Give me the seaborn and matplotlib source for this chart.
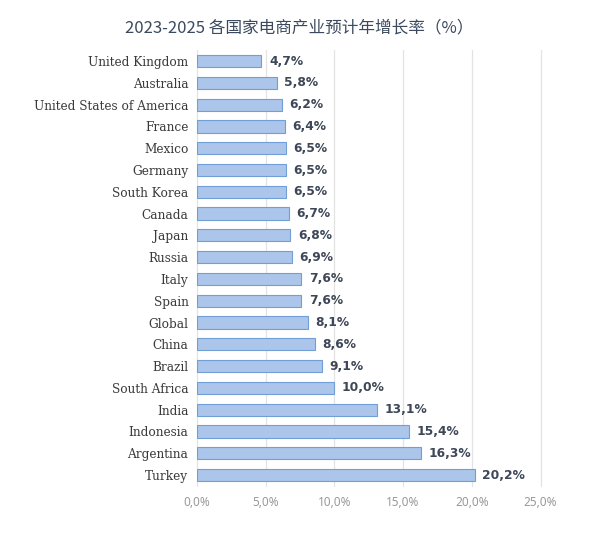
import matplotlib
matplotlib.use('Agg')
import matplotlib.pyplot as plt
import seaborn as sns
import pandas as pd

# Data
countries = ['United Kingdom', 'Australia', 'United States of America', 'France', 'Mexico',
             'Germany', 'South Korea', 'Canada', 'Japan', 'Russia', 'Italy', 'Spain',
             'Global', 'China', 'Brazil', 'South Africa', 'India', 'Indonesia',
             'Argentina', 'Turkey']
growth = [4.7, 5.8, 6.2, 6.4, 6.5, 6.5, 6.5, 6.7, 6.8, 6.9, 7.6, 7.6,
          8.1, 8.6, 9.1, 10.0, 13.1, 15.4, 16.3, 20.2]
xticks = [0, 5, 10, 15, 20, 25]

df = pd.DataFrame({'Country': countries, 'Growth': growth})

sns.set_style('white')
plt.rcParams['font.family'] = ['Noto Sans CJK SC', 'DejaVu Sans']

fig = plt.figure(figsize=(5.98, 5.34), dpi=100)
ax = fig.add_axes([0.329, 0.090, 0.575, 0.816])

sns.barplot(data=df, y='Country', x='Growth', orient='h', color='#abc6ea',
            edgecolor='#719fd5', linewidth=0.8, width=0.56, saturation=1, ax=ax)

# Value labels
for i, v in enumerate(growth):
    ax.text(v + 0.55, i, f"{v:.1f}%".replace('.', ','), va='center', ha='left',
            fontsize=8.8, fontweight='bold', color='#3d4757', family='DejaVu Sans')

ax.set_xlim(0, 25)
ax.set_ylim(19.5, -0.5)
ax.set_xticks(xticks)
ax.set_xticklabels([f"{t:.1f}%".replace('.', ',') for t in xticks],
                   fontsize=8.5, color='#999999', family='Noto Sans')
ax.set_yticks(range(len(countries)))
ax.set_yticklabels(countries, fontsize=8.7, color='#3a3a3a', family='DejaVu Serif')
ax.tick_params(axis='both', length=0, pad=6)
ax.tick_params(axis='x', pad=7)
ax.set_xlabel('')
ax.set_ylabel('')
ax.xaxis.grid(True, color='#e3e3e3', linewidth=0.9)
ax.set_axisbelow(True)
for s in ax.spines.values():
    s.set_visible(False)
for gl in ax.get_xgridlines():
    gl.set_clip_on(False)

fig.suptitle('2023-2025 各国家电商产业预计年增长率（%）', x=0.5, y=0.964,
             fontsize=12, color='#3b4a5f', family=['Noto Sans CJK SC', 'DejaVu Sans'])

fig.savefig('out.png', dpi=100)
